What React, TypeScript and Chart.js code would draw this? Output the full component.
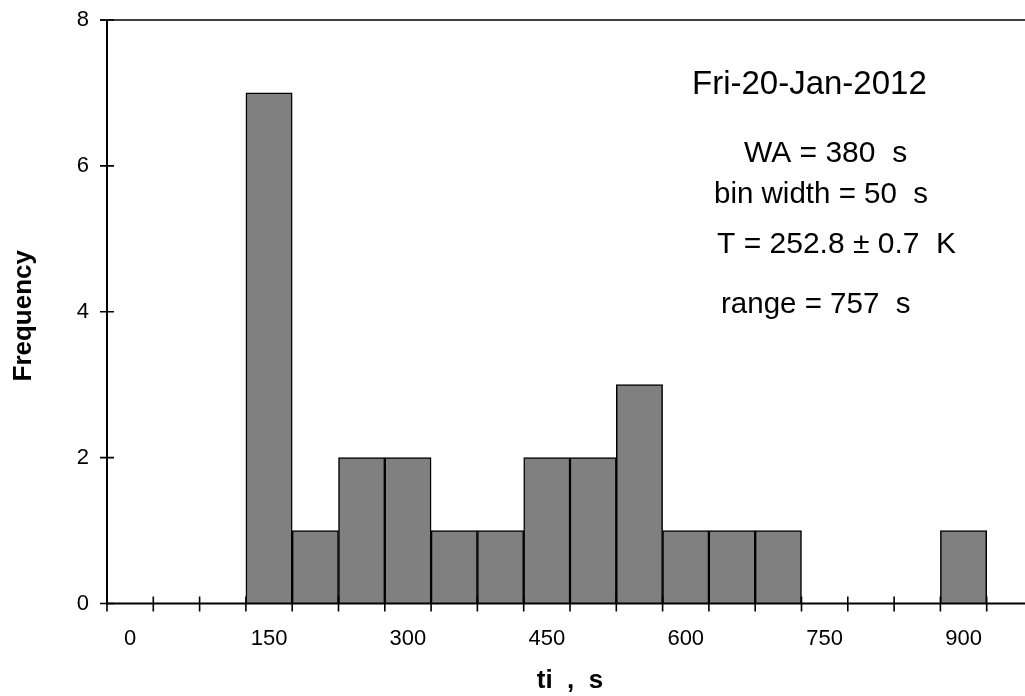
import React, { useEffect, useRef } from "react";
import { Chart, registerables } from "chart.js";

Chart.register(...registerables);

const binLabels: number[] = [0, 50, 100, 150, 200, 250, 300, 350, 400, 450, 500, 550, 600, 650, 700, 750, 800, 850, 900, 950];
const frequencies: number[] = [0, 0, 0, 7, 1, 2, 2, 1, 1, 2, 2, 3, 1, 1, 1, 0, 0, 0, 1, 0];
const yTicks: number[] = [0, 2, 4, 6, 8];
const labelStep = 150;
const xTitle = "ti  ,  s";
const yTitle = "Frequency";
const notes: { text: string; size: number }[] = [
  { text: "Fri-20-Jan-2012", size: 33 },
  { text: "WA = 380  s", size: 30 },
  { text: "bin width = 50  s", size: 29.5 },
  { text: "T = 252.8 ± 0.7  K", size: 30 },
  { text: "range = 757  s", size: 29.5 },
];
const notePos: [number, number][] = [
  [692, 94],
  [744, 162],
  [714, 203],
  [717, 253],
  [721, 313],
];

const FONT = '"Liberation Sans", Arial, sans-serif';

const framePlugin = {
  id: "frame",
  afterDraw(chart: any) {
    const ctx = chart.ctx;
    const { left, right, top, bottom } = chart.chartArea;
    const xs = chart.scales.x;
    const ys = chart.scales.y;
    ctx.save();
    ctx.strokeStyle = "#000";
    ctx.lineWidth = 1.6;
    ctx.beginPath();
    ctx.moveTo(left - 7, top);
    ctx.lineTo(right, top);
    ctx.lineTo(right, bottom);
    ctx.stroke();
    ctx.lineWidth = 2;
    ctx.beginPath();
    ctx.moveTo(left, top);
    ctx.lineTo(left, bottom);
    ctx.lineTo(right, bottom);
    ctx.stroke();
    ctx.lineWidth = 1.6;
    ctx.beginPath();
    yTicks.forEach((v) => {
      const y = ys.getPixelForValue(v);
      ctx.moveTo(left - 7, y);
      ctx.lineTo(left + 7, y);
    });
    for (let i = 0; i <= binLabels.length; i++) {
      const x = xs.getPixelForValue(i - 0.5);
      ctx.moveTo(x, bottom - 7);
      ctx.lineTo(x, bottom + 8);
    }
    ctx.stroke();
    ctx.fillStyle = "#000";
    ctx.font = `bold 26px ${FONT}`;
    ctx.textAlign = "center";
    ctx.textBaseline = "alphabetic";
    ctx.fillText(xTitle, (left + right) / 2, 688);
    ctx.save();
    ctx.translate(31, (top + bottom) / 2 + 4);
    ctx.rotate(-Math.PI / 2);
    ctx.fillText(yTitle, 0, 0);
    ctx.restore();
    ctx.textAlign = "left";
    notes.forEach((n, i) => {
      ctx.font = `${n.size}px ${FONT}`;
      ctx.fillText(n.text, notePos[i][0], notePos[i][1]);
    });
    ctx.restore();
  },
};

export default function App() {
  const ref = useRef<HTMLCanvasElement | null>(null);
  useEffect(() => {
    if (!ref.current) return;
    const chart = new Chart(ref.current, {
      type: "bar",
      data: {
        labels: binLabels.map(String),
        datasets: [
          {
            data: frequencies,
            backgroundColor: "#808080",
            borderColor: "#000",
            borderWidth: 1.5,
            categoryPercentage: 1,
            barPercentage: 1,
          },
        ],
      },
      options: {
        animation: false,
        responsive: false,
        devicePixelRatio: 1,
        layout: { padding: { top: 20, right: 12, left: 0, bottom: 0 } },
        plugins: { legend: { display: false }, tooltip: { enabled: false } },
        scales: {
          x: {
            offset: true,
            grid: { display: false, drawTicks: false },
            border: { display: false },
            ticks: {
              autoSkip: false,
              maxRotation: 0,
              color: "#000",
              padding: 22,
              font: { family: FONT, size: 22 },
              callback: (_v: any, i: number) => (binLabels[i] % labelStep === 0 ? String(binLabels[i]) : ""),
            },
            afterFit: (s: any) => {
              s.height = 92.5;
              s.paddingLeft = 0;
              s.paddingRight = 0;
            },
          },
          y: {
            min: 0,
            max: 8,
            grid: { display: false, drawTicks: false },
            border: { display: false },
            ticks: {
              stepSize: 2,
              color: "#000",
              padding: 18,
              font: { family: FONT, size: 22 },
            },
            afterFit: (s: any) => {
              s.width = 107;
              s.paddingTop = 0;
              s.paddingBottom = 0;
            },
          },
        },
      },
      plugins: [framePlugin],
    });
    return () => chart.destroy();
  }, []);
  return (
    <div style={{ position: "fixed", left: 0, top: 0, width: 1025, height: 696, overflow: "hidden", background: "#fff" }}>
      <canvas ref={ref} width={1045} height={696} style={{ display: "block" }} />
    </div>
  );
}
